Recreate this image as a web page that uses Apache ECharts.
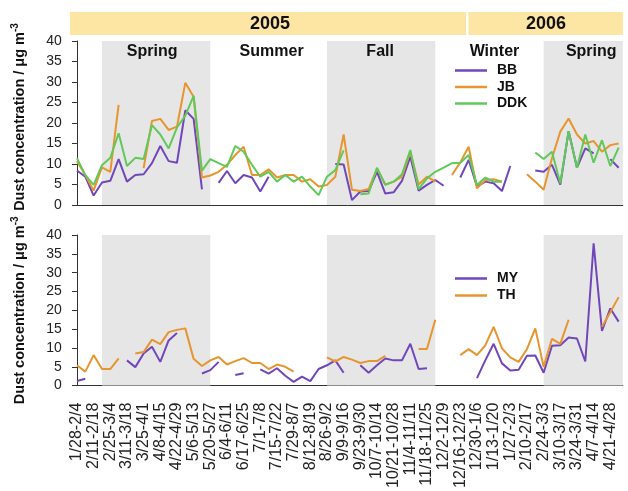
<!DOCTYPE html>
<html><head><meta charset="utf-8">
<script src="https://cdn.jsdelivr.net/npm/echarts@6/dist/echarts.min.js"></script>
<style>html,body{margin:0;padding:0;background:#fff}#c{width:628px;height:491px}</style>
</head><body><div id="c"></div>
<script>
// Labeled weeks (every other weekly sample carries a label)
const weekLabels = ['1/28-2/4','2/11-2/18','2/25-3/4','3/11-3/18','3/25-4/1','4/8-4/15','4/22-4/29','5/6-5/13','5/20-5/27','6/4-6/11','6/17-6/25','7/1-7/8','7/15-7/22','7/29-8/7','8/12-8/19','8/26-9/2','9/9-9/16','9/23-9/30','10/7-10/14','10/21-10/28','11/4-11/11','11/18-11/25','12/2-12/9','12/16-12/23','12/30-1/6','1/13-1/20','1/27-2/3','2/10-2/17','2/24-3/3','3/10-3/17','3/24-3/31','4/7-4/14','4/21-4/28'];
const categories = [];
weekLabels.forEach(l => { categories.push(l); categories.push(''); });

const yTicks = [0,5,10,15,20,25,30,35,40];
const years = ['2005','2006'];
const seasons = ['Spring','Summer','Fall','Winter','Spring'];
// season boundaries in week index
const seasonBounds = [[3,16],[16,30],[30,43],[43,56],[56,65.5]];

const BB = [8.4,6.9,2.3,5.5,5.9,11.2,5.7,7.3,7.5,10.2,14.4,10.7,10.3,23.1,21,3.8,null,5.4,8.3,5.3,7.3,6.7,3.3,6.9,null,null,null,null,null,null,null,10,9.9,1.2,3.3,3.4,8.1,2.8,3.1,5.9,11.8,3.5,4.9,6.1,4.7,null,6.7,11,4.5,5.7,5.3,3.4,9.5,null,null,8.4,8.1,9.8,5,18,9.1,13.8,12.6,null,11.2,9.1];
const JB = [10.7,7.3,3.5,9.2,8.1,24.4,null,null,9,20.5,21,18.3,19.1,29.8,26.4,6.7,7.2,8.1,9.8,12.2,14.2,7.3,7.3,8.7,6.7,7.3,7.3,5.7,6.3,4.5,4.9,6.9,17.2,3.7,3.4,3.9,8.9,5,5.7,6.9,13,5,6.9,5.7,null,7.3,10.4,14.2,4.1,6.1,6.3,5.7,null,null,7.5,5.7,3.7,11.4,17.9,21.1,17.2,15,15.6,13,14.6,15];
const DDK = [11.4,7.3,4.9,9.7,11.5,17.5,9.5,11.5,11.2,19.5,17.2,13.8,18.9,21.8,26.6,8.4,11.2,10.2,9.3,14.4,13,9.8,6.9,8.1,5.7,7.3,5.7,6.9,4.5,2.4,6.9,8.5,13.3,null,2.6,2.8,9.1,4.9,5.7,7.5,13.4,3.9,6.5,8.1,9.1,10.2,10.3,12.2,4.9,6.7,5.7,5.7,null,null,null,12.8,11.2,13,5.3,18,9.1,17.2,10.3,15.8,9.5,14];
const MY = [1.2,1.8,null,null,null,null,6.7,4.9,8.5,10.3,6.3,12,14,null,null,3.2,4.1,6.3,null,2.8,3.3,null,4.3,3.2,4.6,2.6,1,2.4,1.2,4.4,5.4,6.7,3.4,null,5.4,3.4,5.4,7.2,6.7,6.7,11.1,4.4,4.6,null,null,null,null,null,2,6.7,11.1,5.9,4,4.2,7.9,8,3.4,10.6,10.7,12.8,12.5,6.4,37.8,14.5,20.5,17];
const TH = [5.4,3.7,8.1,4.4,4.4,7.2,null,8.5,8.9,12.2,11,14.2,14.8,15.2,7.1,5.2,6.7,7.6,5.6,6.5,7.3,6,6,4.4,5.6,5,3.7,null,null,null,7.5,6.4,7.6,6.9,6,6.5,6.5,7.9,null,null,null,9.7,9.7,17.5,null,null,8.1,9.7,8.1,10.7,15.6,9.9,7.5,6.3,9.7,15.2,5,12.4,11.1,17.5,null,null,null,15.6,19.5,23.5];

const PURPLE = '#7047ba', ORANGE = '#e6952f', GREEN = '#60c95a';
const FONT = '"Liberation Sans", Arial, sans-serif';

function lineSeries(name, data, color, gi) {
  return { type: 'line', name, data, xAxisIndex: gi, yAxisIndex: gi, symbol: 'none', connectNulls: false,
    lineStyle: { width: 2, color }, itemStyle: { color }, z: 3 };
}
function shadeSeries(gi, withLabels) {
  const offsets = [[-4,0],[3,0],[-1,0],[5,0],[8,0]];
  return { type: 'line', data: [], xAxisIndex: gi + 2, yAxisIndex: gi, silent: true, z: 1,
    markArea: { silent: true, data: seasonBounds.map((b, k) => [
      { xAxis: b[0], itemStyle: { color: (k % 2 === 0) ? '#e6e6e6' : 'rgba(0,0,0,0)' },
        label: { show: withLabels, position: 'insideTop', distance: 3, offset: offsets[k], formatter: seasons[k],
          fontSize: 16, fontWeight: 'bold', color: '#111', fontFamily: FONT } },
      { xAxis: b[1] }]) } };
}
function yAxis(gi, pad) {
  return { type: 'value', gridIndex: gi, min: yTicks[0], max: yTicks[yTicks.length-1], interval: 5, offset: 3,
    axisLine: { show: true, lineStyle: { color: '#333' } },
    axisTick: { show: true, length: 5, lineStyle: { color: '#333' } },
    axisLabel: { fontSize: 14, color: '#222', margin: 8, fontFamily: FONT },
    splitLine: { show: false },
    name: '{a|Dust concentration / μg m}{b|-3}', nameLocation: 'middle', nameGap: 40,
    nameTextStyle: { padding: pad, rich: { a: { fontSize: 14.5, fontWeight: 'bold', color: '#111', fontFamily: FONT, lineHeight: 20 },
      b: { fontSize: 10, fontWeight: 'bold', color: '#111', fontFamily: FONT, verticalAlign: 'top', lineHeight: 20 } } } };
}
function xCat(gi, labels) {
  return { type: 'category', gridIndex: gi, data: categories, boundaryGap: true,
    axisLine: { lineStyle: { color: '#333' } },
    axisTick: { interval: 0, alignWithLabel: true, length: 4, lineStyle: { color: '#333' } },
    axisLabel: { show: labels, interval: 0, rotate: 90, fontSize: 16, color: '#222', margin: 17, fontFamily: FONT } };
}
const legendText = { fontSize: 14, fontWeight: 'bold', color: '#111', padding: [0,0,0,5], lineHeight: 15 };
const chart = echarts.init(document.getElementById('c'), null, { renderer: 'canvas' });
chart.setOption({
  animation: false,
  textStyle: { fontFamily: FONT },
  grid: [{ left: 72.8, right: 5.2, top: 41, height: 164 }, { left: 72.8, right: 5.2, top: 235, height: 164 }],
  xAxis: [xCat(0, false), xCat(1, true),
    { type: 'value', gridIndex: 0, min: -0.5, max: 65.5, show: false },
    { type: 'value', gridIndex: 1, min: -0.5, max: 65.5, show: false }],
  yAxis: [yAxis(0, [0,0,0,12]), yAxis(1, [0,0,0,0])],
  legend: [
    { data: ['BB','JB','DDK'], orient: 'vertical', left: 450, top: 58, icon: 'rect', itemWidth: 32, itemHeight: 2.5, itemGap: 1.5,
      textStyle: legendText },
    { data: ['MY','TH'], orient: 'vertical', left: 450, top: 266, icon: 'rect', itemWidth: 32, itemHeight: 2.5, itemGap: 2,
      textStyle: legendText }],
  graphic: [
    { type: 'rect', shape: { x: 70, y: 12, width: 396, height: 23 }, style: { fill: '#fde6a4' }, silent: true, z: 0 },
    { type: 'rect', shape: { x: 468.5, y: 12, width: 154.5, height: 23 }, style: { fill: '#fde6a4' }, silent: true, z: 0 },
    { type: 'text', x: 270, y: 24, style: { text: years[0], font: 'bold 18px ' + FONT, fill: '#111', textAlign: 'center', textVerticalAlign: 'middle' }, z: 1 },
    { type: 'text', x: 546, y: 24, style: { text: years[1], font: 'bold 18px ' + FONT, fill: '#111', textAlign: 'center', textVerticalAlign: 'middle' }, z: 1 }
  ],
  series: [
    shadeSeries(0, true), shadeSeries(1, false),
    lineSeries('BB', BB, PURPLE, 0), lineSeries('JB', JB, ORANGE, 0), lineSeries('DDK', DDK, GREEN, 0),
    lineSeries('MY', MY, PURPLE, 1), lineSeries('TH', TH, ORANGE, 1)
  ]
});
</script></body></html>
